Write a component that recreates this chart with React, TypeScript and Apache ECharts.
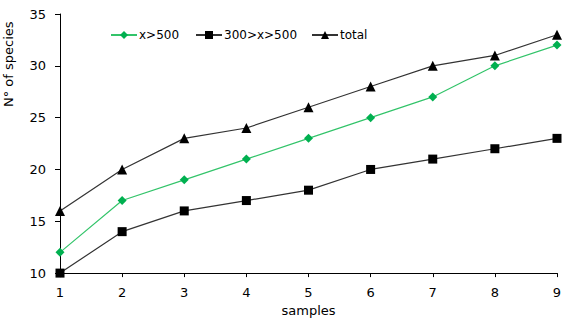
import React, { useEffect, useRef } from "react";
import * as echarts from "echarts";

const samples = [1, 2, 3, 4, 5, 6, 7, 8, 9];
const over500 = [12, 17, 19, 21, 23, 25, 27, 30, 32];
const mid300to500 = [10, 14, 16, 17, 18, 20, 21, 22, 23];
const total = [16, 20, 23, 24, 26, 28, 30, 31, 33];
const seriesNames = ["x>500", "300>x>500", "total"];

const FONT = "DejaVu Sans";

export default function App() {
  const ref = useRef<HTMLDivElement>(null);
  useEffect(() => {
    const chart = echarts.init(ref.current!, null, { renderer: "svg" });
    const pair = (ys: number[]) => samples.map((x, i) => [x, ys[i]]);
    const legendCommon = {
      top: 24,
      itemWidth: 26,
      itemHeight: 10,
      itemGap: 0,
      textStyle: { fontFamily: FONT, fontSize: 12, color: "#000", padding: [0, 0, 0, -3] },
    };
    chart.setOption({
      animation: false,
      backgroundColor: "#fff",
      grid: { left: 60, right: 15, top: 14, bottom: 47 },
      legend: [
        { ...legendCommon, left: 105, data: [seriesNames[0]] },
        { ...legendCommon, left: 190, data: [seriesNames[1]] },
        { ...legendCommon, left: 306, data: [seriesNames[2]] },
      ],
      xAxis: {
        type: "value",
        min: 1,
        max: 9,
        interval: 1,
        name: "samples",
        nameLocation: "middle",
        nameGap: 30,
        nameTextStyle: { fontFamily: FONT, fontSize: 13, color: "#000" },
        splitLine: { show: false },
        axisLine: { lineStyle: { color: "#000", width: 1 } },
        axisTick: { show: true, length: 4, lineStyle: { color: "#000" } },
        axisLabel: { fontFamily: FONT, fontSize: 13, color: "#000", margin: 13 },
      },
      yAxis: {
        type: "value",
        min: 10,
        max: 35,
        interval: 5,
        splitLine: { show: false },
        axisLine: { show: true, lineStyle: { color: "#000", width: 1 } },
        axisTick: { show: true, length: 5, lineStyle: { color: "#000" } },
        axisLabel: { fontFamily: FONT, fontSize: 13, color: "#000", margin: 14 },
      },
      graphic: [
        {
          type: "text",
          x: 2,
          y: 107,
          rotation: Math.PI / 2,
          style: {
            text: "N° of species",
            fontFamily: FONT,
            fontSize: 13,
            fill: "#000",
            textAlign: "left",
            textVerticalAlign: "top",
          },
        },
      ],
      series: [
        {
          name: seriesNames[0],
          type: "line",
          data: pair(over500),
          symbol: "diamond",
          symbolSize: 9,
          itemStyle: { color: "#00b050" },
          lineStyle: { color: "#33c46a", width: 1.2 },
          z: 3,
        },
        {
          name: seriesNames[1],
          type: "line",
          data: pair(mid300to500),
          symbol: "rect",
          symbolSize: 9,
          itemStyle: { color: "#000" },
          lineStyle: { color: "#333", width: 1.2 },
        },
        {
          name: seriesNames[2],
          type: "line",
          data: pair(total),
          symbol: "triangle",
          symbolSize: 10,
          itemStyle: { color: "#000" },
          lineStyle: { color: "#333", width: 1.2 },
        },
      ],
    });
    return () => chart.dispose();
  }, []);
  return <div ref={ref} style={{ width: 572, height: 322, position: "absolute", left: 0, top: 0 }} />;
}
